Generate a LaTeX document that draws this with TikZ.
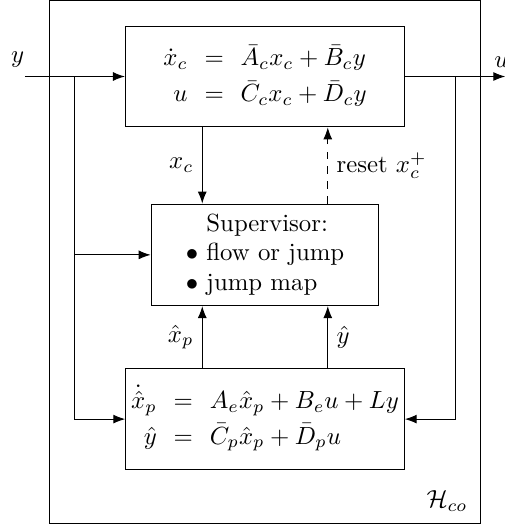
\documentclass[tikz,border=0pt]{standalone}
\usepackage{tikz}
\usetikzlibrary{arrows.meta, positioning}

\begin{document}
\begin{tikzpicture}[
    node distance=1cm,
    box/.style={rectangle, draw, minimum width=#1, minimum height=1.43cm, inner sep=1pt, align=center},
    eqbox/.style={box=#1, execute at begin node={\renewcommand{\arraystretch}{1.2}\setlength{\arraycolsep}{3.4pt}}}
]
\useasboundingbox (0,0) rectangle (7.147,7.473);
% outer frame
\node[draw, minimum width=6.105cm, minimum height=7.416cm] (hco) at (3.754,3.751) {};
\node[above left=0.06cm and 0.06cm of hco.south east] (hcolab) {$\mathcal{H}_{co}$};
% blocks
\node[eqbox=3.96cm] (ctrl) at (3.758,6.388) {$\begin{array}{@{}rcl@{}}
    \dot x_c & = & \bar A_c x_c + \bar B_c y \\
    u & = & \bar C_c x_c + \bar D_c y
  \end{array}$};
\node[box=3.23cm, minimum height=1.44cm, below=1.08cm of ctrl] (sup) {\begin{tabular}{@{}l@{\ }l@{}}
    & Supervisor: \\
    $\bullet$ & flow or jump \\
    $\bullet$ & jump map
  \end{tabular}};
\node[eqbox=3.95cm, below=0.88cm of sup] (obs) {$\begin{array}{@{}rcl@{}}
    \dot{\hat{x}}_p & = & A_e \hat x_p + B_e u + L y \\
    \hat y & = & \bar C_p \hat x_p + \bar D_p u
  \end{array}$};
% signal points
\coordinate[left=1.42cm of ctrl.west] (yin);
\coordinate[left=0.714cm of ctrl.west] (splitl);
\coordinate[right=0.714cm of ctrl.east] (splitr);
\coordinate[right=1.42cm of ctrl.east] (uout);
\coordinate (tapl) at (splitl |- sup.west);
% connections
\draw[-{Latex}] (yin) node[above left, inner xsep=0pt] (ylab) {$y$} -- (ctrl.west);
\draw[-{Latex}] (ctrl.east) -- (uout) node[above, xshift=-1.5pt] (ulab) {$u$};
\draw[-{Latex}] (splitl) |- (obs.west);
\draw[-{Latex}] (tapl) -- (sup.west);
\draw[-{Latex}] (splitr) |- (obs.east);
\draw[-{Latex}] ([xshift=-0.89cm]ctrl.south) -- ([xshift=-0.89cm]sup.north) node[midway, left] (xclab) {$x_c$};
\draw[-{Latex}, dashed] ([xshift=0.89cm]sup.north) -- ([xshift=0.89cm]ctrl.south) node[midway, right] (resetlab) {reset $x_c^+$};
\draw[-{Latex}] ([xshift=-0.89cm]obs.north) -- ([xshift=-0.89cm]sup.south) node[midway, left] (xplab) {$\hat x_p$};
\draw[-{Latex}] ([xshift=0.89cm]obs.north) -- ([xshift=0.89cm]sup.south) node[midway, right] (yhlab) {$\hat y$};
\end{tikzpicture}
\end{document}
